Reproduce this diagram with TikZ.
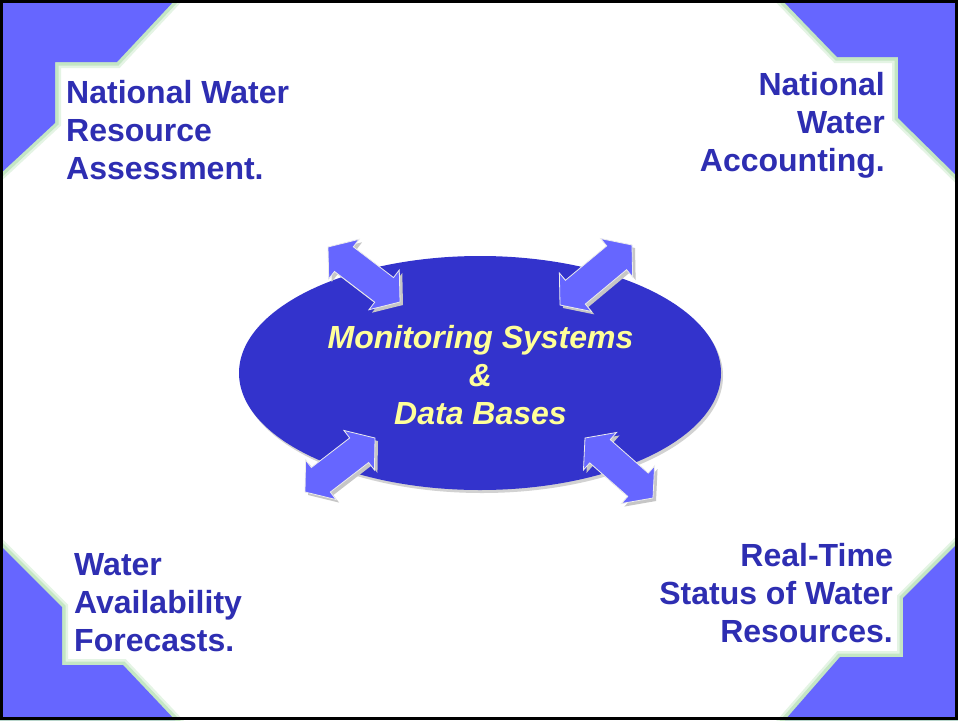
\documentclass[tikz,border=0pt]{standalone}
\usepackage{fontspec}
\setmainfont{Liberation Sans}
\usetikzlibrary{calc,shapes.geometric}
\definecolor{cornerblue}{RGB}{102,102,255}
\definecolor{edgegreen}{RGB}{196,230,196}
\definecolor{ellblue}{RGB}{51,51,204}
\definecolor{labelblue}{RGB}{46,46,178}
\definecolor{paleyellow}{RGB}{255,255,153}
\definecolor{arrowblue}{RGB}{102,102,255}
\newcommand\blockarrow[3][]{%
  \coordinate (ha) at ($(#2)!20pt!(#3)$);
  \coordinate (hb) at ($(#3)!20pt!(#2)$);
  \path[#1] (#2) -- ($(ha)!25pt!90:(#3)$) -- ($(ha)!15.5pt!90:(#3)$)
    -- ($(hb)!15.5pt!-90:(#2)$) -- ($(hb)!25pt!-90:(#2)$) -- (#3)
    -- ($(hb)!25pt!90:(#2)$) -- ($(hb)!15.5pt!90:(#2)$)
    -- ($(ha)!15.5pt!-90:(#3)$) -- ($(ha)!25pt!-90:(#3)$) -- cycle;}
\tikzset{
  cornershape/.style={fill=cornerblue},
  cornerglow/.style={draw=edgegreen, line width=7pt, line join=miter},
  cornerhalo/.style={draw=edgegreen!45, line width=12pt, line join=miter},
  label/.style={text=labelblue, inner sep=0pt, font=\bfseries\fontsize{32}{38}\selectfont},
  coretext/.style={text=paleyellow, inner sep=0pt, align=center, font=\bfseries\itshape\fontsize{32}{38}\selectfont},
  arrowbody/.style={fill=arrowblue, draw=white!85!gray, line width=0.8pt, line join=miter},
  arrowshadow/.style={fill=gray!45, transform canvas={xshift=3pt,yshift=-3pt}}
}
\begin{document}
\begin{tikzpicture}[x=1pt,y=-1pt]
\useasboundingbox (0,0) rectangle (958,720);
\fill[white] (0,0) rectangle (958,720);
\begin{scope}
\clip (0,0) rectangle (958,720);
% corners
\foreach \p in {
  {(0,0) -- (175,0) -- (117,62) -- (55,62) -- (55,123) -- (0,174) -- cycle},
  {(782,0) -- (837,57) -- (898,57) -- (898,118) -- (958,177) -- (958,0) -- cycle},
  {(0,545) -- (62,607) -- (62,665) -- (123,665) -- (175,720) -- (0,720) -- cycle},
  {(958,543) -- (903,598) -- (903,657) -- (840,657) -- (785,720) -- (958,720) -- cycle}}
{
  \path[cornerhalo] \p;
  \path[cornerglow] \p;
  \path[cornershape] \p;
}
\end{scope}
% central ellipse
\fill[gray!35] (482,376) ellipse [x radius=241pt, y radius=117pt];
\node[ellipse, fill=ellblue, minimum width=482pt, minimum height=234pt, inner sep=0pt] (core) at (480,373) {};
% arrows
\coordinate (ula) at (328,247); \coordinate (ulb) at (400,302);
\coordinate (ura) at (632,245); \coordinate (urb) at (560,305);
\coordinate (lla) at (375,438); \coordinate (llb) at (305,492);
\coordinate (lra) at (585,438); \coordinate (lrb) at (653,498);
\blockarrow[arrowshadow]{ula}{ulb}
\blockarrow[arrowbody]{ula}{ulb}
\blockarrow[arrowshadow]{ura}{urb}
\blockarrow[arrowbody]{ura}{urb}
\blockarrow[arrowshadow]{lla}{llb}
\blockarrow[arrowbody]{lla}{llb}
\blockarrow[arrowshadow]{lra}{lrb}
\blockarrow[arrowbody]{lra}{lrb}
% texts
\node[coretext, anchor=north] (coretxt) at (480.5,325) {Monitoring Systems\\\&\\Data Bases};
\node[label, anchor=north west, align=left] (nwra) at (66,80) {National Water\\Resource\\Assessment.};
\node[label, anchor=north east, align=right] (nwa) at (885,72) {National\\Water\\Accounting.};
\node[label, anchor=north west, align=left] (waf) at (74,553) {Water\\Availability\\Forecasts.};
\node[label, anchor=north east, align=right] (rts) at (893,543) {Real-Time\\Status of Water\\Resources.};
% frame
\draw[line width=3pt] (1.5,1.5) rectangle (956.5,718.5);
\end{tikzpicture}
\end{document}
